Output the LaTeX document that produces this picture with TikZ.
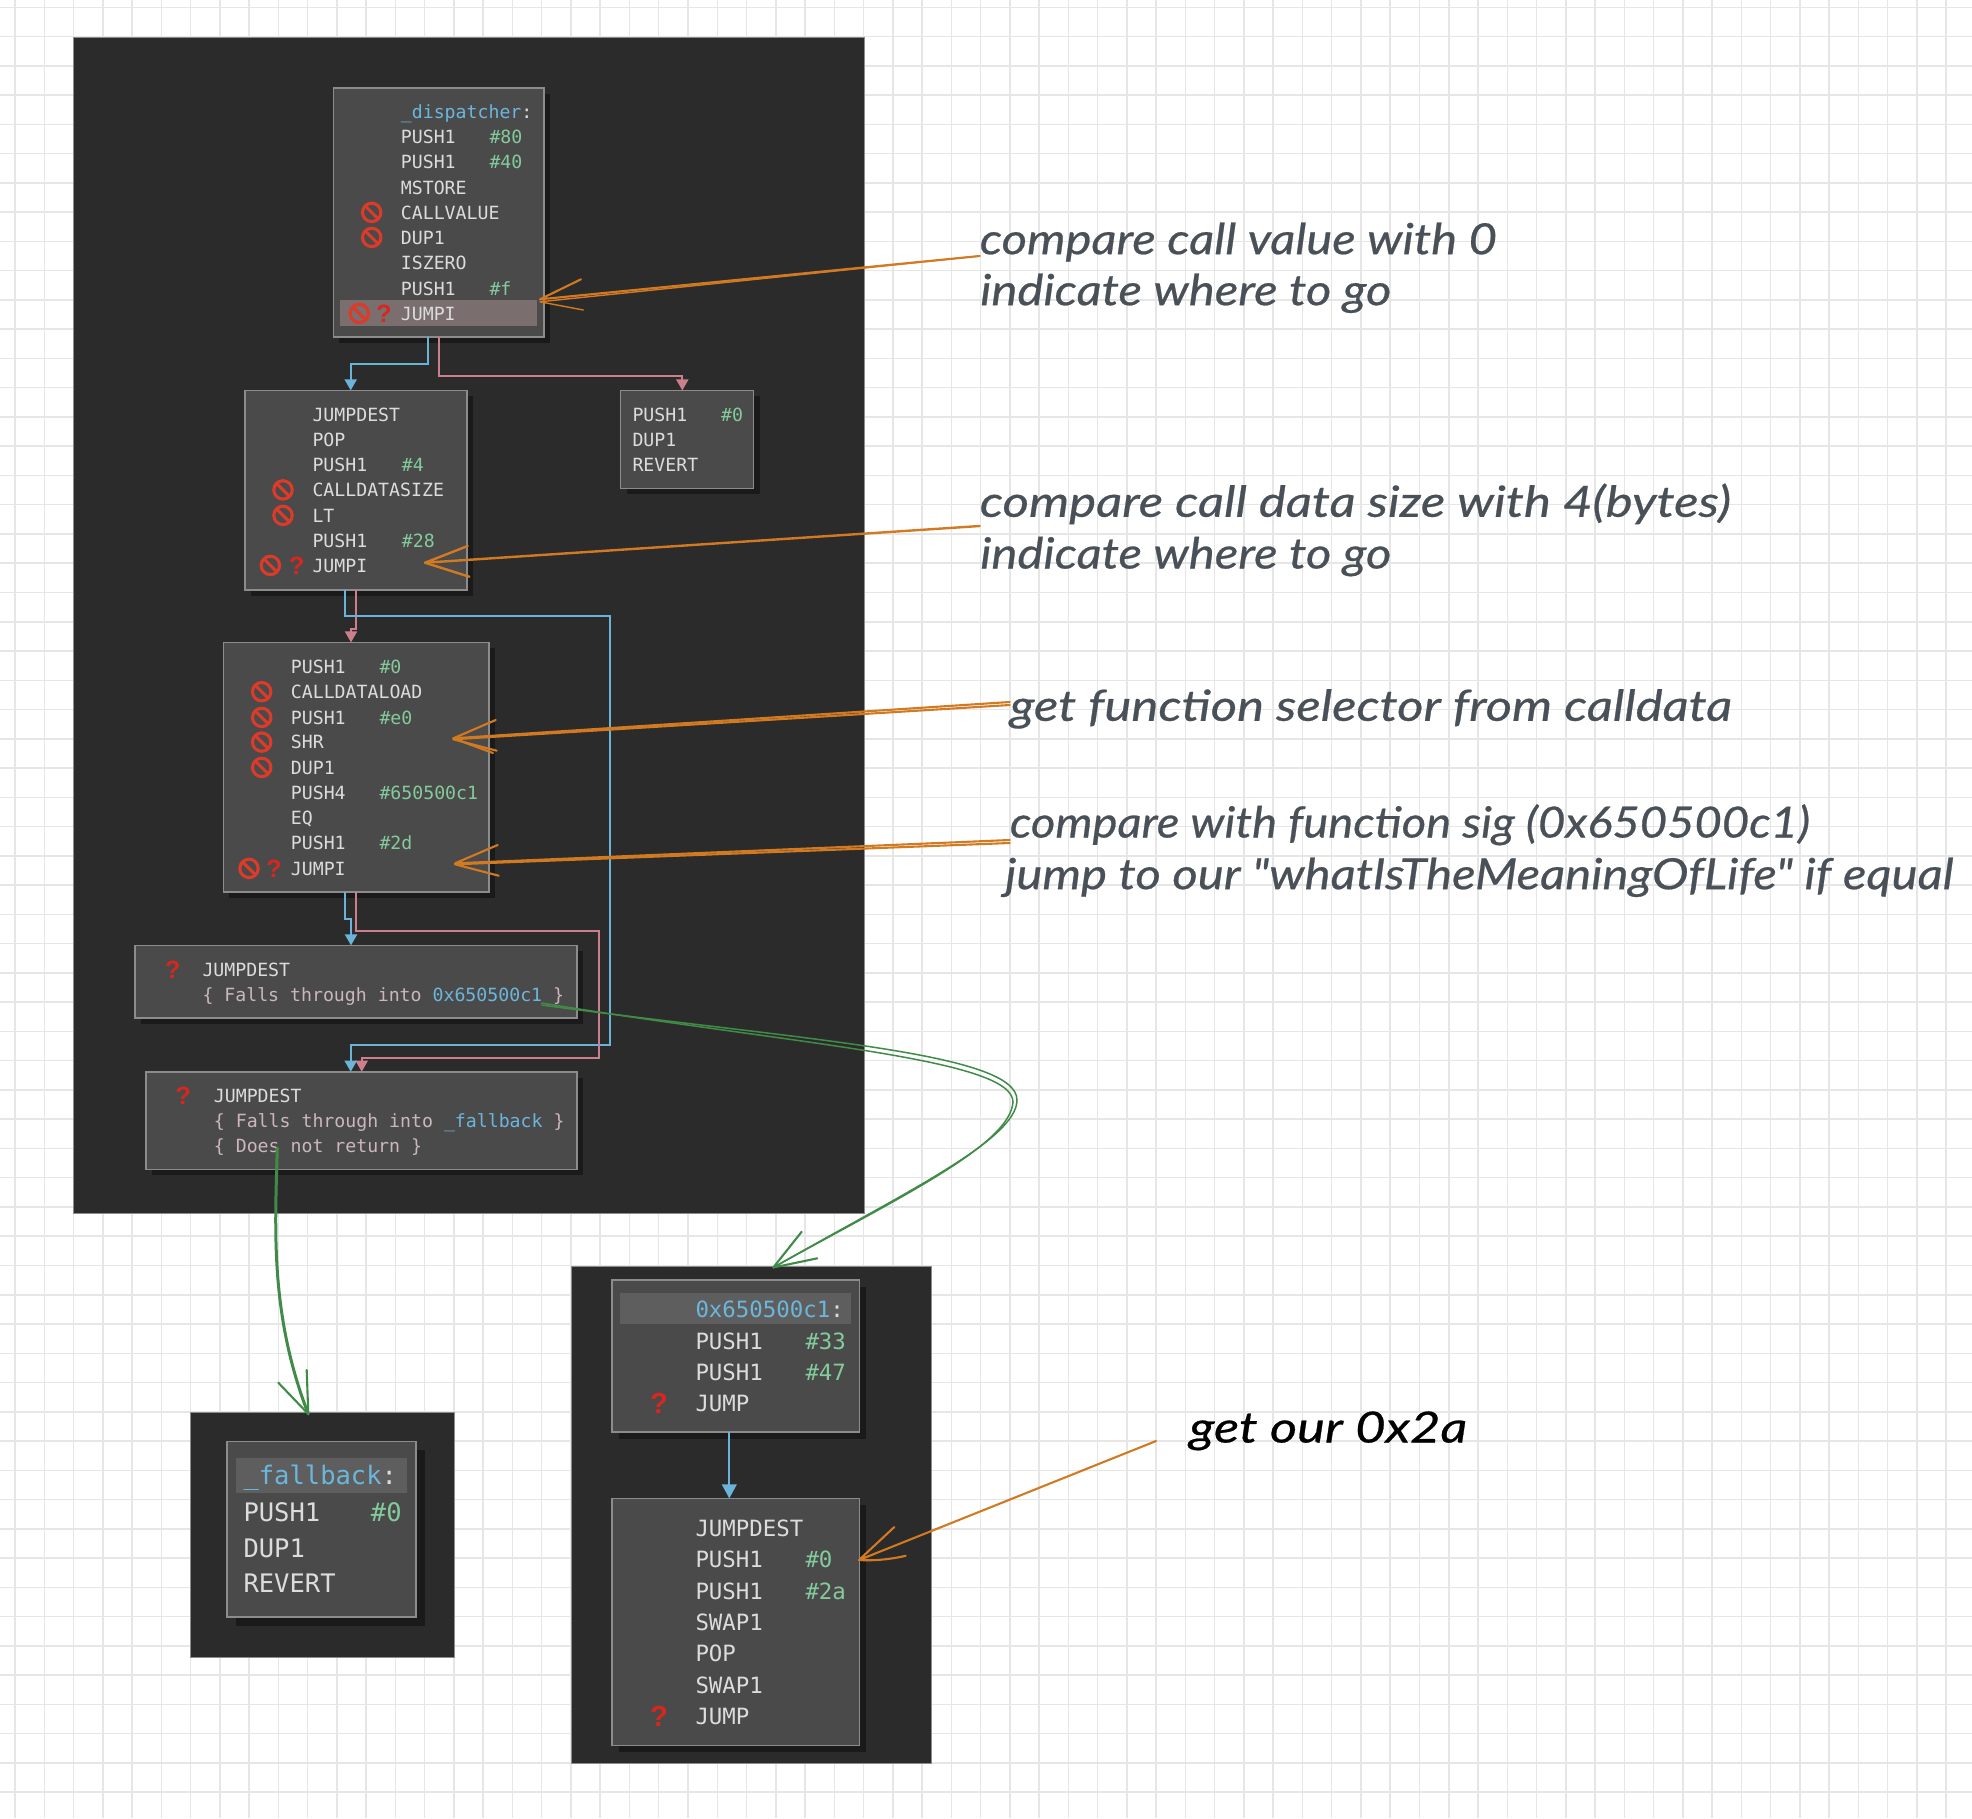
\documentclass[tikz,border=0pt]{standalone}
\usepackage{fontspec}
\usepackage{graphicx}
\usetikzlibrary{arrows.meta}
\newfontfamily\cmono{DejaVu Sans Mono}
\newfontfamily\handf[ItalicFeatures={FakeBold=0.5}]{Lato}
\newfontfamily\qmf{Liberation Sans}
\definecolor{gridc}{HTML}{E6E6E6}
\definecolor{panelc}{HTML}{2B2B2B}
\definecolor{boxc}{HTML}{4A4A4A}
\definecolor{boxl}{HTML}{8C8C8C}
\definecolor{shadowc}{HTML}{1A1A1A}
\definecolor{txtc}{HTML}{DCDCDC}
\definecolor{cmt}{HTML}{CBB6BE}
\definecolor{lblc}{HTML}{6CB6DC}
\definecolor{opc}{HTML}{84CB9C}
\definecolor{edgeb}{HTML}{69B4D8}
\definecolor{edgep}{HTML}{CC808E}
\definecolor{grn}{HTML}{418B48}
\definecolor{org}{HTML}{D27A22}
\definecolor{handc}{HTML}{495057}
\definecolor{redq}{HTML}{D9261F}
\definecolor{nosc}{HTML}{DC3B2A}
\definecolor{hlj}{HTML}{7A6E6E}
\definecolor{hll}{HTML}{5E5E5E}
\newcounter{rwc}
\def\fs{18.2}\def\bsl{6.6}
\newcommand{\setfs}[1]{\def\fs{#1}\pgfmathsetmacro\bsl{0.365*#1}}
\newcommand{\rw}[3]{\stepcounter{rwc}\node[rowtxt] (rw\arabic{rwc}) at ([yshift=-\bsl pt]#1,#2) {#3};}
\newcommand{\opd}[3]{\stepcounter{rwc}\node[rowtxt,text=opc] (rw\arabic{rwc}) at ([yshift=-\bsl pt]#1,#2) {#3};}
\newcommand{\qm}[3][25]{\stepcounter{rwc}\node[inner sep=0,text=redq,font=\qmf\bfseries\fontsize{#1}{#1}\selectfont] (rw\arabic{rwc}) at (#2,#3) {?};}
\newcommand{\nos}[2]{\pic at (#1,#2) {nosign};}
% \cbox{name}{x1}{y1}{x2}{y2}{shadow}
\newcommand{\cbox}[6]{%
  \fill[shadowc] (#2+#6,#3+#6) rectangle (#4+#6,#5+#6);
  \pgfmathsetmacro\bw{#4-#2}\pgfmathsetmacro\bh{#5-#3}
  \node[cb,minimum width=\bw pt,minimum height=\bh pt] (#1) at ({(#2+#4)/2},{(#3+#5)/2}) {};}
% hand text: name, x, baseline y, width, colour, text
\newcommand{\hand}[6]{\node[anchor=base west,inner sep=0,text=#5,font=\handf\itshape\fontsize{43}{46}\selectfont] (#1) at ([yshift=-2.5pt]#2,#3) {\resizebox{#4pt}{\height}{#6}};}
\tikzset{
  cb/.style={draw=boxl,line width=1.6pt,fill=boxc,inner sep=0,outer sep=0,rectangle},
  panel/.style={fill=panelc,draw=boxl,line width=0.8pt},
  rowtxt/.style={anchor=base west,inner sep=0,text=txtc,font=\cmono\fontsize{\fs}{\fs}\selectfont},
  be/.style={draw=edgeb,line width=1.9pt,-{Triangle[width=12pt,length=11pt,fill=edgeb]}},
  pe/.style={draw=edgep,line width=1.9pt,-{Triangle[width=12pt,length=11pt,fill=edgep]}},
  bebig/.style={draw=edgeb,line width=2.3pt,-{Triangle[width=14.5pt,length=14pt,fill=edgeb]}},
  sk/.style={line width=2.1pt,line cap=round,line join=round},
  nosign/.pic={\draw[draw=nosc,line width=3.1pt] (0,0) circle[radius=9.2];
               \draw[draw=nosc,line width=3.1pt] (-6.5,-6.5) -- (6.5,6.5);}
}
\begin{document}
\begin{tikzpicture}[x=1pt,y=-1pt]
\useasboundingbox (0,0) rectangle (1972,1818);
\fill[white] (0,0) rectangle (1972,1818);
% grid
\foreach \i in {0,...,67}{\draw[gridc,line width=1.5pt] ({15+29.26*\i},0) -- ({15+29.26*\i},1818);}
\foreach \i in {0,...,62}{\draw[gridc,line width=1.5pt] (0,{7.3+29.26*\i}) -- (1972,{7.3+29.26*\i});}
\begin{scope}[yshift=-0.4pt]
% panels
\node[panel,inner sep=0,outer sep=0,minimum width=790.5pt,minimum height=1176.5pt] (pmain) at (468.75,624.75) {};
\node[panel,inner sep=0,outer sep=0,minimum width=263.3pt,minimum height=244.4pt] (pfall) at (322.35,1534.5) {};
\node[panel,inner sep=0,outer sep=0,minimum width=360pt,minimum height=497.5pt] (psel) at (751,1514.25) {};

% ---- boxes main
\cbox{bd}{333.3}{87.3}{543.7}{336.7}{6}
\cbox{bj}{245}{390}{466.7}{589.3}{6}
\cbox{br}{620.5}{390}{753.5}{488}{6}
\cbox{bl}{223.3}{642}{488.7}{891.7}{6}
\cbox{bf}{135}{945}{577}{1017.7}{6}
\cbox{bg}{146}{1071.3}{577}{1169}{6}
% highlight
\node[fill=hlj,inner sep=0,minimum width=197pt,minimum height=25.3pt] (hd) at (438.5,312.7) {};
% dispatcher text
\setfs{18.2}
\rw{400.7}{111.7}{\textcolor{lblc}{\_dispatcher}:}
\rw{400.7}{136.7}{PUSH1}\opd{489.3}{136.7}{\#80}
\rw{400.7}{161.8}{PUSH1}\opd{489.3}{161.8}{\#40}
\rw{400.7}{187}{MSTORE}
\rw{400.7}{212}{CALLVALUE}\nos{371.7}{212}
\rw{400.7}{237}{DUP1}\nos{371.7}{237}
\rw{400.7}{262.5}{ISZERO}
\rw{400.7}{288}{PUSH1}\opd{489.3}{288}{\#f}
\rw{400.7}{313}{JUMPI}\nos{359.3}{313}\qm{384}{313}
% jump box
\rw{312.3}{414}{JUMPDEST}
\rw{312.3}{439}{POP}
\rw{312.3}{464.5}{PUSH1}\opd{401.7}{464.5}{\#4}
\rw{312.3}{489.5}{CALLDATASIZE}\nos{283}{489.5}
\rw{312.3}{515}{LT}\nos{283}{515}
\rw{312.3}{540}{PUSH1}\opd{401.7}{540}{\#28}
\rw{312.3}{565}{JUMPI}\nos{270.4}{565}\qm{296.8}{565}
% revert box
\rw{632.3}{414}{PUSH1}\opd{721}{414}{\#0}
\rw{632.3}{439}{DUP1}
\rw{632.3}{464.5}{REVERT}
% lookup box
\rw{290.7}{666}{PUSH1}\opd{379.3}{666}{\#0}
\rw{290.7}{691.3}{CALLDATALOAD}\nos{261.7}{691.3}
\rw{290.7}{717}{PUSH1}\opd{379.3}{717}{\#e0}\nos{261.7}{717}
\rw{290.7}{741.7}{SHR}\nos{261.7}{741.7}
\rw{290.7}{767}{DUP1}\nos{261.7}{767}
\rw{290.7}{792}{PUSH4}\opd{379.3}{792}{\#650500c1}
\rw{290.7}{817}{EQ}
\rw{290.7}{842.7}{PUSH1}\opd{379.3}{842.7}{\#2d}
\rw{290.7}{868}{JUMPI}\nos{249}{868}\qm{274}{868}
% falls boxes
\rw{202.3}{969}{JUMPDEST}\qm{172.7}{969}
\rw{202.3}{994.3}{\textcolor{cmt}{\{ Falls through into }\textcolor{lblc}{0x650500c1}\textcolor{cmt}{\ \}}}
\rw{213.7}{1095}{JUMPDEST}\qm{183.3}{1095}
\rw{213.7}{1120}{\textcolor{cmt}{\{ Falls through into }\textcolor{lblc}{\_fallback}\textcolor{cmt}{\ \}}}
\rw{213.7}{1145.3}{\textcolor{cmt}{\{ Does not return \}}}

% edges main
\coordinate (e1) at (bd.south -| 428.3,0);
\coordinate (e2) at (bd.south -| 439.3,0);
\draw[be] (e1) |- (350.7,363.3) -- (bj.north -| 350.7,0);
\draw[pe] (e2) |- (682.3,376) -- (br.north -| 682.3,0);
\coordinate (e3) at (bj.south -| 345,0);
\coordinate (e4) at (bj.south -| 355.7,0);
\draw[pe] (e4) |- (351,628.3) -- (bl.north -| 351,0);
\draw[be] (e3) |- (609.8,615.7) |- (350.7,1044.3) -- (bg.north -| 350.7,0);
\coordinate (e5) at (bl.south -| 345,0);
\coordinate (e6) at (bl.south -| 355.7,0);
\draw[be] (e5) |- (351,918.3) -- (bf.north -| 351,0);
\draw[pe] (e6) |- (599,930.7) |- (361.7,1057.3) -- (bg.north -| 361.7,0);

% ---- fallback panel box
\cbox{bb}{226.7}{1441}{416}{1616.7}{9}
\node[fill=hll,inner sep=0,minimum width=171pt,minimum height=35.4pt] (hb) at (321.2,1475) {};
\setfs{25.5}
\rw{243.3}{1475}{\textcolor{lblc}{\_fallback}:}
\rw{243.3}{1511.7}{PUSH1}\opd{370.7}{1511.7}{\#0}
\rw{243.3}{1548}{DUP1}
\rw{243.3}{1583}{REVERT}

% ---- selector panel boxes
\cbox{bs}{612}{1279.3}{859.3}{1431.8}{7}
\cbox{bt}{612}{1498}{859.3}{1745}{7}
\node[fill=hll,inner sep=0,minimum width=231pt,minimum height=31pt] (hs) at (735.5,1308.5) {};
\setfs{22.4}
\rw{695.3}{1309.2}{\textcolor{lblc}{0x650500c1}:}
\rw{695.3}{1340.6}{PUSH1}\opd{805.3}{1340.6}{\#33}
\rw{695.3}{1371.6}{PUSH1}\opd{805.3}{1371.6}{\#47}
\rw{695.3}{1402.9}{JUMP}\qm[29]{659}{1402.9}
\rw{695.3}{1527.9}{JUMPDEST}
\rw{695.3}{1559.2}{PUSH1}\opd{805.3}{1559.2}{\#0}
\rw{695.3}{1590.6}{PUSH1}\opd{805.3}{1590.6}{\#2a}
\rw{695.3}{1621.9}{SWAP1}
\rw{695.3}{1652.9}{POP}
\rw{695.3}{1684.6}{SWAP1}
\rw{695.3}{1715.9}{JUMP}\qm[29]{659}{1715.9}
\coordinate (e7) at (bs.south -| 729.3,0);
\draw[bebig] (e7) -- (bt.north -| 729.3,0);
\end{scope}

% ---- hand annotations
\hand{h1}{979.6}{251.7}{517}{handc}{compare call value with 0}
\hand{h1b}{980}{302.7}{411}{handc}{indicate where to go}
\hand{h2}{979.6}{514.3}{751}{handc}{compare call data size with 4(bytes)}
\hand{h2b}{980}{566}{411}{handc}{indicate where to go}
\hand{h3}{1009.7}{718.3}{722}{handc}{get function selector from calldata}
\hand{h4}{1009.7}{835}{800}{handc}{compare with function sig (0x650500c1)}
\hand{h4b}{1005}{886.7}{948}{handc}{jump to our "whatIsTheMeaningOfLife" if equal}
\hand{h5}{1189}{1440}{278}{black}{get our 0x2a}

% ---- orange arrows
\coordinate (o1s) at (979.7,256); \coordinate (o1t) at (540,299.3);
\draw[sk,org] (o1s) -- (o1t) -- (581,279.3);
\draw[sk,org,line width=1.4pt] (o1s) -- ([yshift=-2.5pt]o1t) -- (583.3,310);
\coordinate (o2s) at (979.7,526); \coordinate (o2t) at (425,562.7);
\draw[sk,org,line width=2.4pt] (o2s) -- (o2t) -- (467.7,546);
\draw[sk,org,line width=2.4pt] (o2t) -- (469.3,576.7);
\coordinate (o3s) at (1009.7,702); \coordinate (o3t) at (453.3,738.3);
\draw[sk,org] (o3s) -- (o3t) -- (495.7,720);
\draw[sk,org] ([yshift=-3pt]o3s) -- ([yshift=-1pt]o3t) -- (496.7,750.7);
\draw[sk,org] (o3t) -- (493,753);
\coordinate (o4s) at (1009.7,840); \coordinate (o4t) at (455,863.3);
\draw[sk,org] (o4s) -- (o4t) -- (497.7,845);
\draw[sk,org] ([yshift=-3pt]o4s) -- ([yshift=-1pt]o4t) -- (498.7,875.7);
\coordinate (o5s) at (1156,1441); \coordinate (o5t) at (859,1560);
\draw[sk,org] (o5s) -- (o5t) -- (894.3,1527);
\draw[sk,org] (o5t) .. controls (875,1561) and (892,1559) .. (905.7,1555.8);

% ---- green arrows
\coordinate (g1s) at (541.7,1005); \coordinate (g1t) at (773.3,1267.5);
\draw[grn,line width=1.5pt,line cap=round] (g1s) .. controls (800,1040) and (1017,1052) .. (1017,1100) .. controls (1017,1140) and (900,1195) .. (g1t);
\draw[grn,line width=1.5pt,line cap=round] ([yshift=2pt]g1s) .. controls (790,1044) and (1013,1058) .. (1013,1102) .. controls (1010,1145) and (900,1197) .. (g1t);
\draw[sk,grn] (801.7,1231.7) -- (g1t) -- (817.3,1258.3);
\coordinate (g2s) at (277.3,1148); \coordinate (g2t) at (308.3,1414);
\draw[grn,line width=3pt,line cap=round] (g2s) .. controls (275,1230) and (270,1315) .. (g2t);
\draw[sk,grn] (278.3,1382.7) -- (g2t) -- (306.7,1370);
\end{tikzpicture}
\end{document}
